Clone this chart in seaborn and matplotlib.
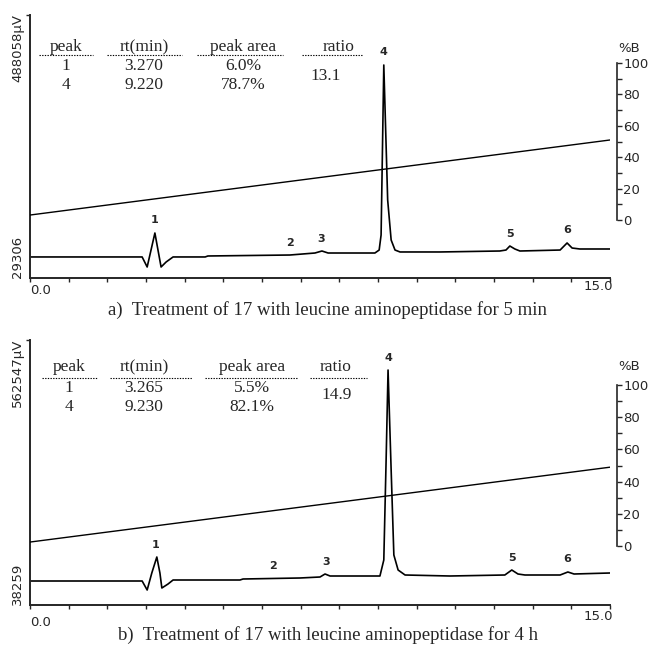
import numpy as np
import pandas as pd
import matplotlib
matplotlib.use("Agg")
import matplotlib.pyplot as plt
import seaborn as sns
from matplotlib.lines import Line2D
from matplotlib.ticker import FixedLocator, NullFormatter

# ---------------- data ----------------
# panel a: chromatogram (time in min, signal in microvolts)
time_a = [0.00, 2.90, 3.03, 3.13, 3.23, 3.31, 3.39, 3.52, 3.70, 4.53, 4.60, 6.72,
          7.37, 7.55, 7.71, 8.92, 9.03, 9.08, 9.15, 9.25, 9.34, 9.44, 9.57, 10.60,
          12.15, 12.31, 12.41, 12.54, 12.67, 13.71, 13.89, 14.02, 14.22, 15.00]
signal_a = [66000, 66000, 48500, 78100, 107800, 78100, 48500, 57200, 66000, 66000, 67700, 69400,
            72900, 76400, 72900, 72900, 78100, 104300, 400850, 165400, 95600, 78100, 74700, 74700,
            76400, 78100, 85100, 79900, 76400, 78100, 90400, 81600, 79900, 79900]

# panel b: chromatogram
time_b = [0.00, 2.90, 3.03, 3.15, 3.28, 3.36, 3.41, 3.57, 3.70, 5.43, 5.51, 6.98,
          7.50, 7.63, 7.76, 9.05, 9.15, 9.21, 9.26, 9.34, 9.41, 9.52, 9.70, 10.86,
          12.28, 12.46, 12.62, 12.80, 13.71, 13.91, 14.07, 15.00]
signal_b = [85740, 85740, 67935, 101570, 133220, 101570, 71890, 79800, 87720, 87720, 89700, 91680,
            93650, 99590, 95630, 95630, 127280, 325120, 503180, 305340, 137180, 107500, 97610, 95630,
            97610, 107500, 99590, 97610, 97610, 103550, 99590, 101570]

# gradient (%B)
grad_time = [0.0, 15.0]
grad_a = [3.2, 51.0]
grad_b = [2.5, 49.0]

# signal axis range labels (microvolts)
range_a = (29306, 488058)
range_b = (38259, 562547)

# peak labels
peak_ids = ["1", "2", "3", "4", "5", "6"]
peak_t_a = [3.21, 6.72, 7.52, 9.15, 12.41, 13.89]
peak_t_b = [3.25, 6.28, 7.65, 9.26, 12.46, 13.89]

# tables
headers = ["peak", "rt(min)", "peak area", "ratio"]
tab_peak = ["1", "4"]
tab_rt_a = ["3.270", "9.220"]
tab_area_a = ["6.0%", "78.7%"]
tab_ratio_a = "13.1"
tab_rt_b = ["3.265", "9.230"]
tab_area_b = ["5.5%", "82.1%"]
tab_ratio_b = "14.9"

captions = ["a)  Treatment of 17 with leucine aminopeptidase for 5 min",
            "b)  Treatment of 17 with leucine aminopeptidase for 4 h"]

pctB_ticks = [0, 20, 40, 60, 80, 100]
pctB_minor = [10, 30, 50, 70, 90]

# ---------------- figure ----------------
sns.set_style("ticks")
plt.rcParams["font.family"] = ["DejaVu Sans"]
W, H = 651, 646
fig = plt.figure(figsize=(W / 100, H / 100), dpi=100)

def fx(px):
    return px / W

def fy(py):
    return 1 - py / H

SERIF = "Liberation Serif"
SANS = "DejaVu Sans"


def panel(top, bottom, time, signal, yr, grad, pct_lim, peak_t,
          hdr_y, ul_y, rows_y, ratio_y, col_x, ul_x, ratio_x,
          rt, area, ratio, caption, cap_y, zero_y, fifteen_y, pb_y):
    ax = fig.add_axes([fx(30), fy(bottom), fx(610) - fx(30), fy(top) - fy(bottom)])
    df = pd.DataFrame({"t": time, "s": signal})
    sns.lineplot(data=df, x="t", y="s", ax=ax, color="black", linewidth=1.2,
                 estimator=None, sort=False)
    ax.set_xlim(0, 15)
    ax.set_ylim(*yr)
    ax.set_xlabel("")
    ax.set_ylabel("")
    for s in ["top", "right"]:
        ax.spines[s].set_visible(False)
    for s in ["left", "bottom"]:
        ax.spines[s].set_linewidth(1.4)
    ax.set_xticks(np.arange(0, 16, 1))
    ax.set_xticklabels([])
    ax.tick_params(axis="x", direction="out", length=3, width=1.0)
    ax.set_yticks([yr[1]])
    ax.set_yticklabels([])
    ax.tick_params(axis="y", direction="out", length=3, width=1.0)

    # axis range labels
    ax.annotate(f"{yr[1]}\u03bcV", xy=(0, 1), xycoords="axes fraction",
                xytext=(-9, 1), textcoords="offset points", rotation=90,
                ha="center", va="top", fontsize=9.5, family=SANS)
    ax.annotate(f"{yr[0]}", xy=(0, 0), xycoords="axes fraction",
                xytext=(-9, 0), textcoords="offset points", rotation=90,
                ha="center", va="bottom", fontsize=9.5, family=SANS)
    fig.text(fx(30), fy(zero_y), "0.0", ha="left", va="center", fontsize=9.5, family=SANS)
    fig.text(fx(613), fy(fifteen_y), "15.0", ha="right", va="center", fontsize=9.5, family=SANS)

    # peak labels, placed above the local maximum of the trace
    tt = np.asarray(time)
    ss = np.asarray(signal)
    for lab, t in zip(peak_ids, peak_t):
        win = np.abs(tt - t) <= 0.08
        yv = max(np.interp(t, tt, ss), ss[win].max() if win.any() else 0)
        ax.annotate(lab, xy=(t, yv), xytext=(0, 9), textcoords="offset points",
                    ha="center", va="center", fontsize=8, fontweight="bold", family=SANS)

    # gradient axis
    ax2 = ax.twinx()
    gdf = pd.DataFrame({"t": grad_time, "g": grad})
    sns.lineplot(data=gdf, x="t", y="g", ax=ax2, color="black", linewidth=1.0,
                 estimator=None, sort=False)
    ax2.set_ylim(*pct_lim)
    ax2.set_xlim(0, 15)
    ax2.set_ylabel("")
    for s in ["top", "left", "bottom"]:
        ax2.spines[s].set_visible(False)
    ax2.spines["right"].set_position(("outward", 5))
    ax2.spines["right"].set_bounds(0, 100)
    ax2.spines["right"].set_linewidth(1.2)
    ax2.set_yticks(pctB_ticks)
    ax2.set_yticklabels([str(v) for v in pctB_ticks], fontsize=9.5, family=SANS)
    ax2.yaxis.set_minor_locator(FixedLocator(pctB_minor))
    ax2.yaxis.set_minor_formatter(NullFormatter())
    ax2.tick_params(axis="y", which="both", direction="out", length=3.5, width=1.0, pad=1)
    fig.text(fx(618), fy(pb_y), "%B", ha="left", va="center", fontsize=9.5, family=SANS)

    # table
    for h, x0, (u0, u1) in zip(headers, col_x, ul_x):
        fig.text(fx(x0), fy(hdr_y), h, ha="center", va="center", fontsize=12.5, family=SERIF)
        fig.add_artist(Line2D([fx(u0), fx(u1)], [fy(ul_y), fy(ul_y)], transform=fig.transFigure,
                              color="black", linewidth=0.8, linestyle=(0, (1.2, 1.2))))
    for i, ry in enumerate(rows_y):
        fig.text(fx(col_x[0]), fy(ry), tab_peak[i], ha="center", va="center", fontsize=12.5, family=SERIF)
        fig.text(fx(col_x[1]), fy(ry), rt[i], ha="center", va="center", fontsize=12.5, family=SERIF)
        fig.text(fx(col_x[2]), fy(ry), area[i], ha="center", va="center", fontsize=12.5, family=SERIF)
    fig.text(fx(ratio_x), fy(ratio_y), ratio, ha="center", va="center", fontsize=12.5, family=SERIF)

    fig.text(fx(328), fy(cap_y), caption, ha="center", va="center", fontsize=13.5, family=SERIF)
    return ax


panel(15, 278, time_a, signal_a, range_a, grad_a, (-36.9, 130.6), peak_t_a,
      47, 55, [66, 85], 76, [66, 144, 243, 339],
      [(39, 93), (107, 182), (197, 283), (302, 362)], 326,
      tab_rt_a, tab_area_a, tab_ratio_a, captions[0], 310, 291, 287, 48)

panel(340, 605, time_b, signal_b, range_b, grad_b, (-36.6, 128.0), peak_t_b,
      367, 378, [388, 407], 395, [69, 144, 252, 336],
      [(42, 97), (110, 192), (205, 297), (310, 367)], 337,
      tab_rt_b, tab_area_b, tab_ratio_b, captions[1], 635, 622, 616, 367)

fig.savefig("out.png", dpi=100)
